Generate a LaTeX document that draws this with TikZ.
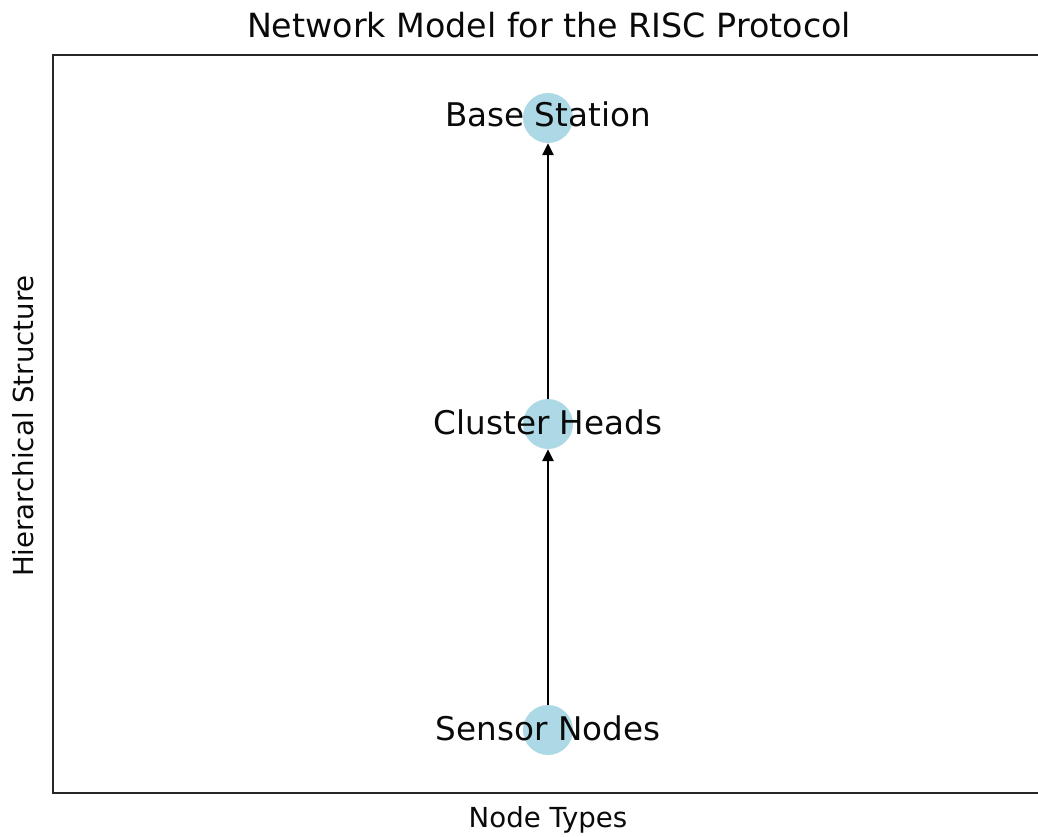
\documentclass[tikz,border=0pt]{standalone}
\usepackage{fontspec}
\setmainfont{DejaVu Sans}
\usetikzlibrary{arrows.meta}
\definecolor{nodeblue}{HTML}{ADD8E6}
\definecolor{txt}{HTML}{0A0A0A}
\tikzset{
  vertex/.style={circle, fill=nodeblue, draw=none, minimum size=50pt, inner sep=0pt},
  vlabel/.style={anchor=base, inner sep=0pt, text=txt, font=\fontsize{32.6}{39}\selectfont},
  arr/.style={line width=2.6pt, draw=black, -{Triangle[length=12pt, width=11pt]}},
  frame/.style={line width=2.2pt, draw=black!85},
  axlabel/.style={inner sep=0pt, text=txt, font=\fontsize{27.6}{33}\selectfont},
}
\begin{document}
\begin{tikzpicture}[x=1pt, y=-1pt]
\useasboundingbox (0,0) rectangle (1038,837);
\begin{scope}
\clip (0,0) rectangle (1038,837);
\draw[frame] (1045,55) -- (53,55) -- (53,793) -- (1045,793);
\end{scope}
\node[anchor=base, inner sep=0pt, text=txt, font=\fontsize{33.3}{40}\selectfont] (title) at (549,38) {Network Model for the RISC Protocol};
\node[axlabel, anchor=base] (xlab) at (548,827) {Node Types};
\node[axlabel, anchor=base, rotate=90] (ylab) at (33,426) {Hierarchical Structure};
\node[vertex] (base) at (548,118) {};
\node[vertex] (cluster) at (548,424) {};
\node[vertex] (sensor) at (548,730) {};
\draw[arr] (sensor) -- (cluster);
\draw[arr] (cluster) -- (base);
\node[vlabel] (baselab) at (548,127) {Base Station};
\node[vlabel] (clusterlab) at (548,434) {Cluster Heads};
\node[vlabel] (sensorlab) at (548,740) {Sensor Nodes};
\end{tikzpicture}
\end{document}
